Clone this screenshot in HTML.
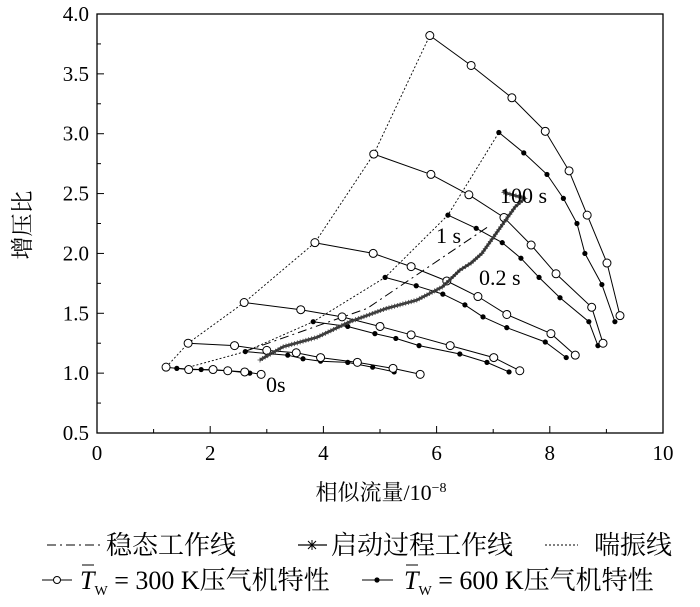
<!DOCTYPE html>
<html><head><meta charset="utf-8"><style>
body{margin:0;background:#fff;}
svg{display:block;font-family:"Liberation Serif","Noto Serif CJK SC",serif;}
</style></head><body>
<svg id="chart" width="700" height="607" viewBox="0 0 700 607">
<g id="plot"></g>
<text x="381" y="500" text-anchor="middle" font-size="22">相似流量/10<tspan dy="-8" font-size="14">−8</tspan></text>
<text transform="translate(30,225) rotate(-90)" text-anchor="middle" font-size="23">增压比</text>
<g font-size="26">
 <g>
  <line x1="47" y1="545" x2="100" y2="545" stroke="#000" stroke-dasharray="9,4,2,4"/>
  <text x="106" y="554">稳态工作线</text></g>
 <g>
  <line x1="298" y1="545" x2="327" y2="545" stroke="#000" stroke-width="1.3"/>
  <path d="M307,545h10M312,540v10M308,541l8,8M316,541l-8,8" stroke="#000"/>
  <text x="331" y="554">启动过程工作线</text></g>
 <g>
  <line x1="545" y1="545" x2="578" y2="545" stroke="#000" stroke-dasharray="2,2"/>
  <text x="594" y="554">喘振线</text></g>
 <g>
  <line x1="42" y1="580" x2="72" y2="580" stroke="#000"/>
  <circle cx="57" cy="580" r="3.5" fill="#fff" stroke="#000"/>
  <text x="80" y="589"><tspan font-style="italic">T</tspan><tspan font-size="14" dy="6">W</tspan><tspan dy="-6"> = 300 K压气机特性</tspan></text>
  <line x1="82" y1="565" x2="94" y2="565" stroke="#000"/></g>
 <g>
  <line x1="362" y1="580" x2="393" y2="580" stroke="#000"/>
  <circle cx="377" cy="580" r="2.6" fill="#000"/>
  <text x="404" y="589"><tspan font-style="italic">T</tspan><tspan font-size="14" dy="6">W</tspan><tspan dy="-6"> = 600 K压气机特性</tspan></text>
  <line x1="406" y1="565" x2="418" y2="565" stroke="#000"/></g>
</g>
</svg>
<script>
// ---- data ----
const xTicks=[0,2,4,6,8,10];
const yTicks=[0.5,1.0,1.5,2.0,2.5,3.0,3.5,4.0];
const open1x=[5.88,6.61,7.33,7.92,8.34,8.66,9.01,9.24];
const open1y=[3.82,3.57,3.30,3.02,2.69,2.32,1.92,1.48];
const open2x=[4.89,5.90,6.57,7.19,7.67,8.11,8.74,8.94];
const open2y=[2.83,2.66,2.49,2.30,2.07,1.83,1.55,1.25];
const open3x=[3.85,4.88,5.55,6.18,6.73,7.24,8.02,8.45];
const open3y=[2.09,2.00,1.89,1.77,1.64,1.49,1.33,1.15];
const open4x=[2.60,3.60,4.33,5.00,5.55,6.24,7.01,7.47];
const open4y=[1.59,1.53,1.47,1.39,1.32,1.23,1.13,1.02];
const open5x=[1.61,2.43,3.00,3.52,3.95,4.60,5.23,5.71];
const open5y=[1.25,1.23,1.19,1.17,1.13,1.09,1.04,0.99];
const open6x=[1.22,1.62,2.05,2.31,2.61,2.90];
const open6y=[1.05,1.03,1.03,1.02,1.01,0.99];
const fill1x=[7.10,7.54,7.95,8.24,8.48,8.62,8.92,9.15];
const fill1y=[3.01,2.84,2.66,2.46,2.25,2.00,1.74,1.43];
const fill2x=[6.20,6.70,7.16,7.49,7.81,8.18,8.69,8.85];
const fill2y=[2.32,2.21,2.09,1.96,1.80,1.63,1.43,1.23];
const fill3x=[5.09,5.64,6.11,6.50,6.82,7.24,7.92,8.29];
const fill3y=[1.80,1.73,1.66,1.57,1.47,1.38,1.26,1.13];
const fill4x=[3.82,4.43,4.91,5.28,5.69,6.41,6.89,7.28];
const fill4y=[1.43,1.39,1.33,1.29,1.23,1.16,1.09,1.01];
const fill5x=[2.62,3.37,3.64,3.95,4.43,4.87,5.25];
const fill5y=[1.18,1.15,1.12,1.10,1.09,1.05,1.01];
const fill6x=[1.41,1.84,2.31,2.70];
const fill6y=[1.04,1.03,1.02,1.00];
const surgeOx=[1.22,1.61,2.60,3.85,4.89,5.88];
const surgeOy=[1.05,1.25,1.59,2.09,2.83,3.82];
const surgeFx=[1.62,2.62,3.82,5.09,6.20,7.10];
const surgeFy=[1.05,1.18,1.43,1.80,2.32,3.01];
const steadyX=[2.60,4.77,6.90];
const steadyY=[1.18,1.54,2.22];
const startX=[2.88,3.29,3.89,4.47,5.11,5.65,6.10,6.41,6.61,6.80,7.10,7.39,7.56,7.19,7.21];
const startY=[1.11,1.22,1.30,1.43,1.54,1.61,1.72,1.86,1.92,2.00,2.20,2.39,2.46,2.51,2.53];

// ---- axes ----
const X0=97,X1=663,Y0=433,Y1=14;
const sx=v=>X0+(v-0)/(10-0)*(X1-X0);
const sy=v=>Y0-(v-0.5)/(4.0-0.5)*(Y0-Y1);
const NS="http://www.w3.org/2000/svg";
const g=document.getElementById('plot');
function mk(tag,attrs,parent){const e=document.createElementNS(NS,tag);for(const k in attrs)e.setAttribute(k,attrs[k]);(parent||g).appendChild(e);return e;}
function pts(xs,ys){return xs.map((x,i)=>sx(x).toFixed(1)+','+sy(ys[i]).toFixed(1)).join(' ');}

let fr=mk('rect',{x:X0,y:Y1,width:X1-X0,height:Y0-Y1,fill:'none',stroke:'#000','stroke-width':1.3});


xTicks.forEach((t,i)=>{
  const x=sx(t);
  mk('line',{x1:x,y1:Y0,x2:x,y2:Y0-7,stroke:'#000','stroke-width':1});
  if(i<xTicks.length-1){const xm=sx(t+1);mk('line',{x1:xm,y1:Y0,x2:xm,y2:Y0-4,stroke:'#000','stroke-width':1});}
  let tx=mk('text',{x:x,y:Y0+27,'text-anchor':'middle','font-size':21});
  tx.textContent=t;
  
  
});
yTicks.forEach((t,i)=>{
  const y=sy(t);
  mk('line',{x1:X0,y1:y,x2:X0+7,y2:y,stroke:'#000','stroke-width':1});
  if(i<yTicks.length-1){const ym=sy(t+0.25);mk('line',{x1:X0,y1:ym,x2:X0+4,y2:ym,stroke:'#000','stroke-width':1});}
  let tx=mk('text',{x:X0-8,y:y+7,'text-anchor':'end','font-size':21});
  tx.textContent=t.toFixed(1);
  
  
});

let s1=mk('polyline',{points:pts(surgeOx,surgeOy),fill:'none',stroke:'#000','stroke-width':0.9,'stroke-dasharray':'2,2'});


let s2=mk('polyline',{points:pts(surgeFx,surgeFy),fill:'none',stroke:'#000','stroke-width':0.9,'stroke-dasharray':'2,2'});


let st=mk('polyline',{points:pts(steadyX,steadyY),fill:'none',stroke:'#000','stroke-width':1,'stroke-dasharray':'9,4,2,4'});



const opens=[[open1x,open1y],[open2x,open2y],[open3x,open3y],[open4x,open4y],[open5x,open5y],[open6x,open6y]];
const fills=[[fill1x,fill1y],[fill2x,fill2y],[fill3x,fill3y],[fill4x,fill4y],[fill5x,fill5y],[fill6x,fill6y]];
fills.forEach(([xs,ys])=>{
  let p=mk('polyline',{points:pts(xs,ys),fill:'none',stroke:'#000','stroke-width':1});
  
  
  xs.forEach((x,i)=>{let c=mk('circle',{cx:sx(x),cy:sy(ys[i]),r:2.6,fill:'#000'});
    
    });
});
opens.forEach(([xs,ys])=>{
  let p=mk('polyline',{points:pts(xs,ys),fill:'none',stroke:'#000','stroke-width':1});
  
  
  xs.forEach((x,i)=>{let c=mk('circle',{cx:sx(x),cy:sy(ys[i]),r:4,fill:'#fff',stroke:'#000','stroke-width':1});
    
    });
});

let sl=mk('polyline',{points:pts(startX,startY),fill:'none',stroke:'#222','stroke-width':2.6,'stroke-linejoin':'round'});


for(let i=0;i<startX.length-1;i++){
  const ax=sx(startX[i]),ay=sy(startY[i]),bx=sx(startX[i+1]),by=sy(startY[i+1]);
  const n=Math.max(1,Math.round(Math.hypot(bx-ax,by-ay)/3));
  for(let k=0;k<n;k++){const x=ax+(bx-ax)*k/n,y=ay+(by-ay)*k/n;
    mk('path',{d:`M${x-2.5},${y}h5M${x},${y-2.5}v5`,stroke:'#444','stroke-width':0.8});}
}
function ann(t,x,y,name){let e=mk('text',{x:x,y:y,'font-size':22});e.textContent=t;
  }
ann('100 s',500,203,'label-100s');
ann('1 s',436,243,'label-1s');
ann('0.2 s',479,285,'label-0-2s');
ann('0s',266,392,'label-0s');
</script>
</body></html>
